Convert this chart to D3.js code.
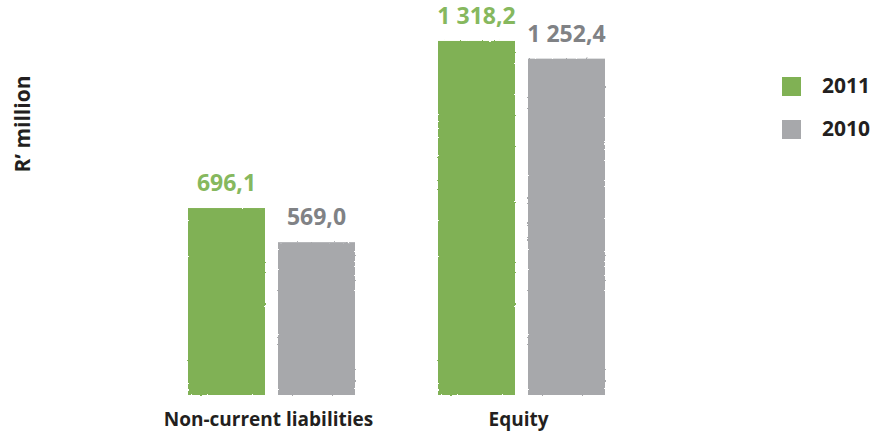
<!DOCTYPE html>
<html>
<head>
<meta charset="utf-8">
<script src="https://cdn.jsdelivr.net/npm/d3@7/dist/d3.min.js"></script>
<style>
  html, body { margin: 0; padding: 0; background: #fff; }
  svg { display: block; font-family: "Open Sans", "Noto Sans", sans-serif; }
</style>
</head>
<body>
<svg id="chart" width="874" height="432"></svg>
<script>
// Balance-sheet items, R' million
const categories = ["Non-current liabilities", "Equity"];
const years = ["2011", "2010"];
const values2011 = [696.1, 1318.2];
const values2010 = [569.0, 1252.4];
const valueLabels2011 = ["696,1", "1 318,2"];
const valueLabels2010 = ["569,0", "1 252,4"];
const yTitle = "R\u2019 million";

const barColors = { "2011": "#80b154", "2010": "#a7a8ab" };
const labelColors = { "2011": "#86b85e", "2010": "#808285" };
const inkColor = "#231f20";

const svg = d3.select("#chart");

const baseline = 395;
const y = d3.scaleLinear().domain([0, 1400]).range([baseline, 19]);

const x0 = d3.scaleBand().domain(categories).range([188, 605]).paddingInner(0.332).paddingOuter(0);
const x1 = d3.scaleBand().domain(years).range([0, x0.bandwidth()]).paddingInner(13 / 90).paddingOuter(0);

// slightly rough, hand-cut edges on the bars
const defs = svg.append("defs");
const rough = defs.append("filter").attr("id", "rough")
  .attr("x", "-5%").attr("y", "-5%").attr("width", "110%").attr("height", "110%");
rough.append("feTurbulence").attr("type", "fractalNoise").attr("baseFrequency", 0.35)
  .attr("numOctaves", 2).attr("seed", 4).attr("result", "noise");
rough.append("feDisplacementMap").attr("in", "SourceGraphic").attr("in2", "noise")
  .attr("scale", 2.2).attr("xChannelSelector", "R").attr("yChannelSelector", "G");

const rows = categories.map((c, i) => ({
  category: c,
  bars: [
    { year: "2011", value: values2011[i], label: valueLabels2011[i] },
    { year: "2010", value: values2010[i], label: valueLabels2010[i] }
  ]
}));

const groups = svg.append("g").selectAll("g")
  .data(rows).join("g")
  .attr("transform", d => `translate(${x0(d.category)},0)`);

groups.selectAll("rect")
  .data(d => d.bars).join("rect")
  .attr("x", d => x1(d.year))
  .attr("y", d => y(d.value))
  .attr("width", x1.bandwidth())
  .attr("height", d => baseline - y(d.value))
  .attr("fill", d => barColors[d.year])
  .attr("filter", "url(#rough)");

groups.selectAll("text.value")
  .data(d => d.bars).join("text")
  .attr("class", "value")
  .attr("x", d => x1(d.year) + x1.bandwidth() / 2)
  .attr("y", d => y(d.value) - 17)
  .attr("text-anchor", "middle")
  .attr("font-size", 23)
  .attr("font-weight", 700)
  .attr("fill", d => labelColors[d.year])
  .text(d => d.label);

// category axis labels
svg.append("g").selectAll("text")
  .data(categories).join("text")
  .attr("x", d => x0(d) + x0.bandwidth() / 2 - 3)
  .attr("y", 426)
  .attr("text-anchor", "middle")
  .attr("font-size", 19)
  .attr("font-weight", 700)
  .attr("fill", inkColor)
  .text(d => d);

// y-axis title
svg.append("text")
  .attr("transform", "translate(30,124) rotate(-90)")
  .attr("text-anchor", "middle")
  .attr("font-size", 21)
  .attr("font-weight", 700)
  .attr("fill", inkColor)
  .text(yTitle);

// legend
const legend = svg.append("g").selectAll("g")
  .data(years).join("g")
  .attr("transform", (d, i) => `translate(782,${77 + i * 43})`);
legend.append("rect")
  .attr("width", 19).attr("height", 19)
  .attr("fill", d => barColors[d]);
legend.append("text")
  .attr("x", 40).attr("y", 16)
  .attr("font-size", 21)
  .attr("font-weight", 700)
  .attr("fill", inkColor)
  .text(d => d);
</script>
</body>
</html>
